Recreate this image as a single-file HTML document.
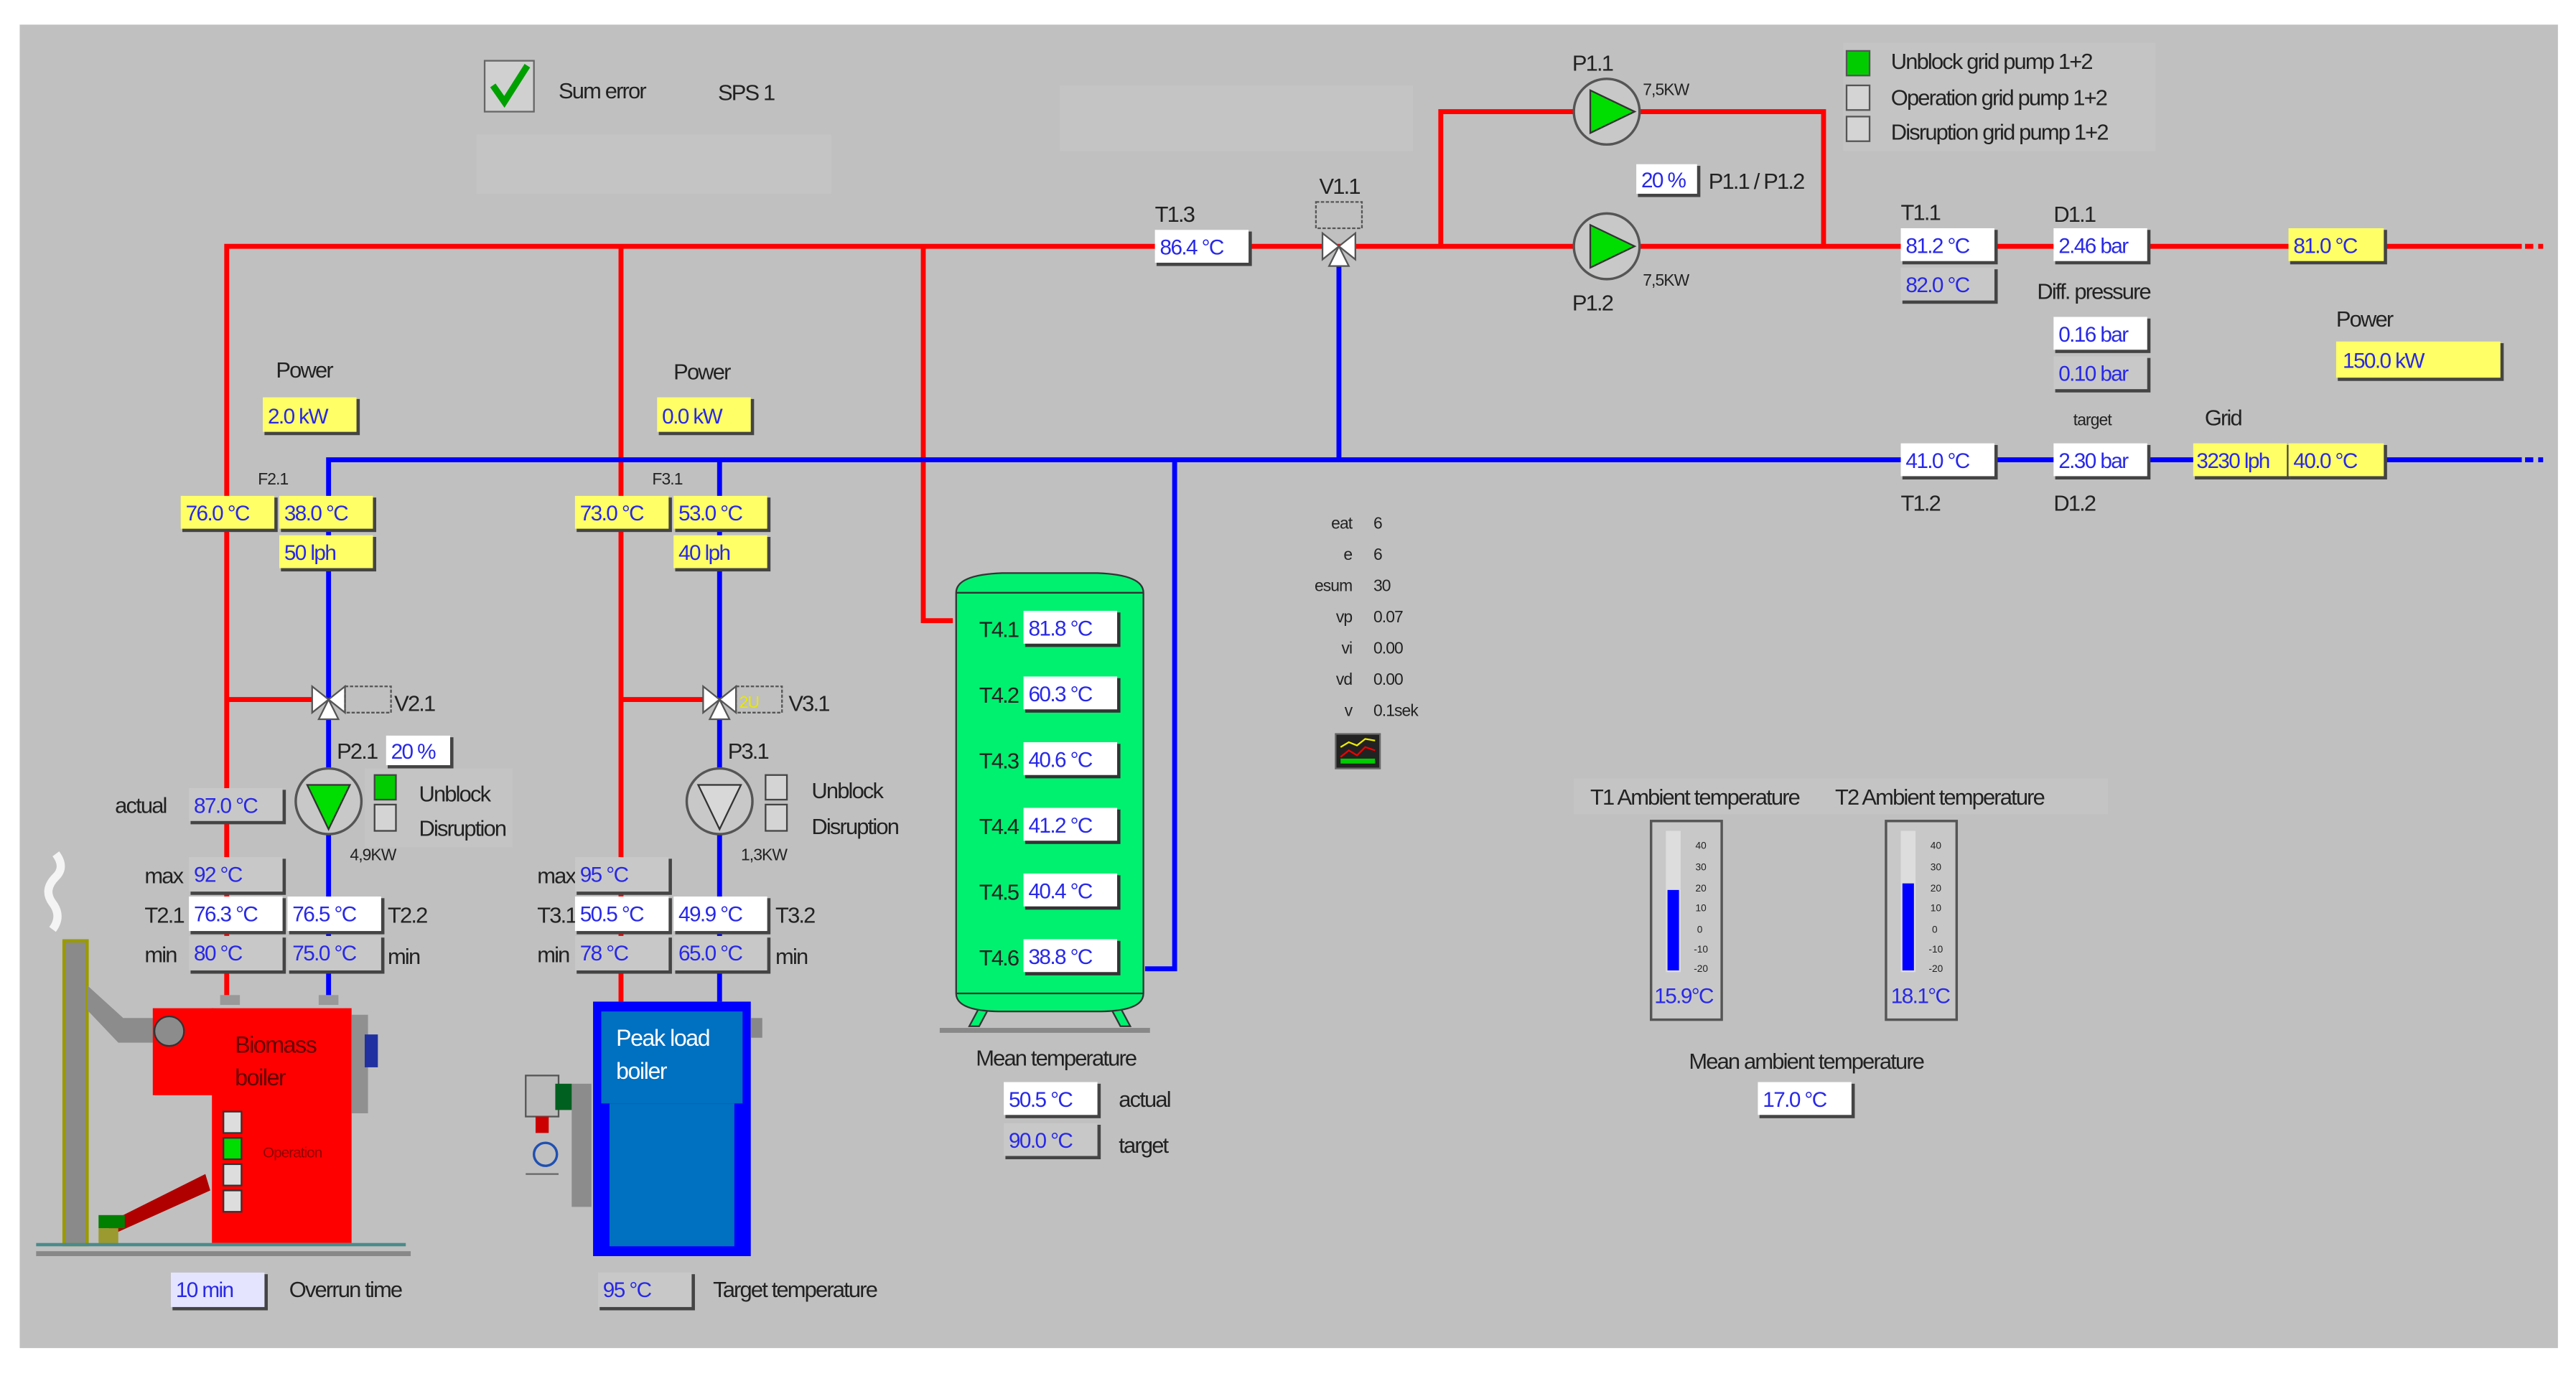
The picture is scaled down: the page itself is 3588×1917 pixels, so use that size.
<!DOCTYPE html>
<html><head><meta charset="utf-8"><style>
html,body{margin:0;padding:0;background:#fff}
svg{display:block}
text{font-family:"Liberation Sans Narrow","Liberation Sans",sans-serif}
.l{font-size:13.5px;fill:#222;letter-spacing:-0.8px}
.s{font-size:10px;fill:#222;letter-spacing:-0.4px}
.v{font-size:13px;fill:#2828e8;letter-spacing:-0.7px}
</style></head><body>
<svg width="3588" height="1917" viewBox="0 0 1568 838" preserveAspectRatio="none" xmlns="http://www.w3.org/2000/svg">
<defs>
<g id="valve"><polygon points="-10,-8 0,0 -10,8" fill="#fff" stroke="#555"/><polygon points="10,-8 0,0 10,8" fill="#fff" stroke="#555"/><polygon points="-6,12 0,0 6,12" fill="#fff" stroke="#555"/></g>
</defs>
<rect x="0" y="0" width="1568" height="838" fill="#fff"/>
<rect x="12" y="15" width="1545" height="806" fill="#c0c0c0"/>
<rect x="290" y="82" width="216" height="36" fill="#c4c4c4"/>
<rect x="645" y="52" width="215" height="40" fill="#c4c4c4"/>

<!-- sum error -->
<rect x="295" y="37" width="30" height="31" fill="#d0d0d0" stroke="#666"/>
<path d="M300 52 L307 62 L321 40" stroke="#00a000" stroke-width="4" fill="none"/>
<text x="340" y="60" class="l" font-size="16">Sum error</text>
<text x="437" y="61" class="l" font-size="15">SPS 1</text>

<!-- red pipes -->
<g stroke="#ff0000" stroke-width="3" fill="none">
<path d="M138 610 V150 H1535"/>
<path d="M1537 150 H1548" stroke-dasharray="5,3"/>
<path d="M378 610 V150"/>
<path d="M562 150 V378 H580"/>
<path d="M877 150 V68 H1110 V150"/>
<path d="M138 426 H190"/>
<path d="M378 426 H428"/>
</g>
<!-- blue pipes -->
<g stroke="#0000ff" stroke-width="3" fill="none">
<path d="M200 610 V280 H1535"/>
<path d="M1537 280 H1548" stroke-dasharray="5,3"/>
<path d="M438 610 V280"/>
<path d="M715 280 V590 H697"/>
<path d="M815 160 V280"/>
</g>

<!-- V1.1 -->
<text x="803" y="118" class="l">V1.1</text>
<rect x="801" y="123" width="28" height="16" fill="none" stroke="#555" stroke-dasharray="2,1"/>
<use href="#valve" x="815" y="150"/>

<!-- grid pumps -->
<g>
<circle cx="978" cy="68" r="20" fill="#c8c8c8" stroke="#555" stroke-width="1.5"/>
<polygon points="968,55 968,81 995,68" fill="#00dd00" stroke="#333"/>
<circle cx="978" cy="150" r="20" fill="#c8c8c8" stroke="#555" stroke-width="1.5"/>
<polygon points="968,137 968,163 995,150" fill="#00dd00" stroke="#333"/>
</g>
<text x="957" y="43" class="l">P1.1</text>
<text x="1000" y="58" class="s">7,5KW</text>
<text x="957" y="189" class="l">P1.2</text>
<text x="1000" y="174" class="s">7,5KW</text>

<!-- legend -->
<rect x="1122" y="26" width="190" height="66" fill="#c4c4c4"/>
<rect x="1124" y="31" width="14" height="15" fill="#00cc00" stroke="#555"/>
<rect x="1124" y="52" width="14" height="15" fill="#d4d4d4" stroke="#555"/>
<rect x="1124" y="71" width="14" height="15" fill="#d4d4d4" stroke="#555"/>
<text x="1151" y="42" class="l">Unblock grid pump 1+2</text>
<text x="1151" y="64" class="l">Operation grid pump 1+2</text>
<text x="1151" y="85" class="l">Disruption grid pump 1+2</text>

<g>
<text x="703" y="135" class="l">T1.3</text>
<rect x="704" y="141" width="58" height="21" fill="#444"/><rect x="703" y="140" width="57" height="20" fill="#fff"/>
<text x="706" y="155" class="v">86.4 °C</text>

<rect x="997" y="101" width="38" height="19" fill="#444"/><rect x="996" y="100" width="37" height="18" fill="#fff"/>
<text x="999" y="114" class="v">20 %</text>
<text x="1040" y="115" class="l">P1.1 / P1.2</text>

<text x="1157" y="134" class="l">T1.1</text>
<rect x="1158" y="140" width="58" height="21" fill="#444"/><rect x="1157" y="139" width="57" height="20" fill="#fff"/>
<text x="1160" y="154" class="v">81.2 °C</text>
<rect x="1158" y="164" width="58" height="21" fill="#444"/><rect x="1157" y="163" width="57" height="20" fill="#c8c8c8"/>
<text x="1160" y="178" class="v">82.0 °C</text>

<text x="1250" y="135" class="l">D1.1</text>
<rect x="1251" y="140" width="58" height="21" fill="#444"/><rect x="1250" y="139" width="57" height="20" fill="#fff"/>
<text x="1253" y="154" class="v">2.46 bar</text>

<rect x="1394" y="140" width="59" height="21" fill="#444"/><rect x="1393" y="139" width="58" height="20" fill="#ffff66"/>
<text x="1396" y="154" class="v">81.0 °C</text>

<text x="1240" y="182" class="l">Diff. pressure</text>
<rect x="1251" y="194" width="58" height="21" fill="#444"/><rect x="1250" y="193" width="57" height="20" fill="#fff"/>
<text x="1253" y="208" class="v">0.16 bar</text>
<rect x="1251" y="218" width="58" height="21" fill="#444"/><rect x="1250" y="217" width="57" height="20" fill="#c8c8c8"/>
<text x="1253" y="232" class="v">0.10 bar</text>

<text x="1422" y="199" class="l">Power</text>
<rect x="1423" y="209" width="101" height="23" fill="#444"/><rect x="1422" y="208" width="100" height="22" fill="#ffff66"/>
<text x="1426" y="224" class="v">150.0 kW</text>

<text x="1262" y="259" class="s">target</text>
<text x="1342" y="259" class="l">Grid</text>
<rect x="1158" y="271" width="58" height="21" fill="#444"/><rect x="1157" y="270" width="57" height="20" fill="#fff"/>
<text x="1160" y="285" class="v">41.0 °C</text>
<rect x="1251" y="271" width="58" height="21" fill="#444"/><rect x="1250" y="270" width="57" height="20" fill="#fff"/>
<text x="1253" y="285" class="v">2.30 bar</text>
<rect x="1336" y="271" width="58" height="21" fill="#444"/><rect x="1335" y="270" width="57" height="20" fill="#ffff66"/>
<text x="1337" y="285" class="v">3230 lph</text>
<rect x="1394" y="271" width="59" height="21" fill="#444"/><rect x="1393" y="270" width="58" height="20" fill="#ffff66"/>
<text x="1396" y="285" class="v">40.0 °C</text>
<text x="1157" y="311" class="l">T1.2</text>
<text x="1250" y="311" class="l">D1.2</text>

<text x="168" y="230" class="l">Power</text>
<rect x="161" y="243" width="58" height="22" fill="#444"/><rect x="160" y="242" width="57" height="21" fill="#ffff66"/>
<text x="163" y="258" class="v">2.0 kW</text>
<text x="410" y="231" class="l">Power</text>
<rect x="401" y="243" width="58" height="22" fill="#444"/><rect x="400" y="242" width="57" height="21" fill="#ffff66"/>
<text x="403" y="258" class="v">0.0 kW</text>
<text x="157" y="295" class="s">F2.1</text>
<text x="397" y="295" class="s">F3.1</text>

<rect x="111" y="303" width="58" height="21" fill="#444"/><rect x="110" y="302" width="57" height="20" fill="#ffff66"/>
<text x="113" y="317" class="v">76.0 °C</text>
<rect x="171" y="303" width="58" height="21" fill="#444"/><rect x="170" y="302" width="57" height="20" fill="#ffff66"/>
<text x="173" y="317" class="v">38.0 °C</text>
<rect x="171" y="327" width="58" height="21" fill="#444"/><rect x="170" y="326" width="57" height="20" fill="#ffff66"/>
<text x="173" y="341" class="v">50 lph</text>

<rect x="351" y="303" width="58" height="21" fill="#444"/><rect x="350" y="302" width="57" height="20" fill="#ffff66"/>
<text x="353" y="317" class="v">73.0 °C</text>
<rect x="411" y="303" width="58" height="21" fill="#444"/><rect x="410" y="302" width="57" height="20" fill="#ffff66"/>
<text x="413" y="317" class="v">53.0 °C</text>
<rect x="411" y="327" width="58" height="21" fill="#444"/><rect x="410" y="326" width="57" height="20" fill="#ffff66"/>
<text x="413" y="341" class="v">40 lph</text>

<use href="#valve" x="200" y="426"/>
<rect x="210" y="418" width="28" height="16" fill="none" stroke="#555" stroke-dasharray="2,1"/>
<text x="240" y="433" class="l">V2.1</text>
<use href="#valve" x="438" y="426"/>
<rect x="448" y="418" width="28" height="16" fill="none" stroke="#555" stroke-dasharray="2,1"/>
<text x="450" y="431" class="s" style="fill:#e8e800">2U</text>
<text x="480" y="433" class="l">V3.1</text>

<text x="205" y="462" class="l">P2.1</text>
<rect x="236" y="449" width="40" height="19" fill="#444"/><rect x="235" y="448" width="39" height="18" fill="#fff"/>
<text x="238" y="462" class="v">20 %</text>
<text x="443" y="462" class="l">P3.1</text>

<rect x="222" y="468" width="90" height="48" fill="#c4c4c4"/>
<circle cx="200" cy="488" r="20" fill="#c8c8c8" stroke="#555" stroke-width="1.5"/>
<polygon points="187,478 213,478 200,505" fill="#00dd00" stroke="#333"/>
<rect x="228" y="472" width="13" height="15" fill="#00cc00" stroke="#444"/>
<rect x="228" y="490" width="13" height="16" fill="#d4d4d4" stroke="#444"/>
<text x="255" y="488" class="l">Unblock</text>
<text x="255" y="509" class="l">Disruption</text>
<text x="213" y="524" class="s">4,9KW</text>

<circle cx="438" cy="488" r="20" fill="#c8c8c8" stroke="#555" stroke-width="1.5"/>
<polygon points="425,478 451,478 438,505" fill="#d8d8d8" stroke="#333"/>
<rect x="466" y="472" width="13" height="15" fill="#d4d4d4" stroke="#444"/>
<rect x="466" y="490" width="13" height="16" fill="#d4d4d4" stroke="#444"/>
<text x="494" y="486" class="l">Unblock</text>
<text x="494" y="508" class="l">Disruption</text>
<text x="451" y="524" class="s">1,3KW</text>

<text x="70" y="495" class="l">actual</text>
<rect x="116" y="481" width="58" height="21" fill="#444"/><rect x="115" y="480" width="57" height="20" fill="#c8c8c8"/>
<text x="118" y="495" class="v">87.0 °C</text>

<text x="88" y="538" class="l">max</text>
<rect x="116" y="523" width="58" height="22" fill="#444"/><rect x="115" y="522" width="57" height="21" fill="#c8c8c8"/>
<text x="118" y="537" class="v">92 °C</text>
<text x="88" y="562" class="l">T2.1</text>
<rect x="116" y="547" width="58" height="22" fill="#444"/><rect x="115" y="546" width="57" height="21" fill="#fff"/>
<text x="118" y="561" class="v">76.3 °C</text>
<rect x="176" y="547" width="58" height="22" fill="#444"/><rect x="175" y="546" width="57" height="21" fill="#fff"/>
<text x="178" y="561" class="v">76.5 °C</text>
<text x="236" y="562" class="l">T2.2</text>
<text x="88" y="586" class="l">min</text>
<rect x="116" y="571" width="58" height="22" fill="#444"/><rect x="115" y="570" width="57" height="21" fill="#c8c8c8"/>
<text x="118" y="585" class="v">80 °C</text>
<rect x="176" y="571" width="58" height="22" fill="#444"/><rect x="175" y="570" width="57" height="21" fill="#c8c8c8"/>
<text x="178" y="585" class="v">75.0 °C</text>
<text x="236" y="587" class="l">min</text>

<text x="327" y="538" class="l">max</text>
<rect x="351" y="523" width="58" height="22" fill="#444"/><rect x="350" y="522" width="57" height="21" fill="#c8c8c8"/>
<text x="353" y="537" class="v">95 °C</text>
<text x="327" y="562" class="l">T3.1</text>
<rect x="351" y="547" width="58" height="22" fill="#444"/><rect x="350" y="546" width="57" height="21" fill="#fff"/>
<text x="353" y="561" class="v">50.5 °C</text>
<rect x="411" y="547" width="58" height="22" fill="#444"/><rect x="410" y="546" width="57" height="21" fill="#fff"/>
<text x="413" y="561" class="v">49.9 °C</text>
<text x="472" y="562" class="l">T3.2</text>
<text x="327" y="586" class="l">min</text>
<rect x="351" y="571" width="58" height="22" fill="#444"/><rect x="350" y="570" width="57" height="21" fill="#c8c8c8"/>
<text x="353" y="585" class="v">78 °C</text>
<rect x="411" y="571" width="58" height="22" fill="#444"/><rect x="410" y="570" width="57" height="21" fill="#c8c8c8"/>
<text x="413" y="585" class="v">65.0 °C</text>
<text x="472" y="587" class="l">min</text>
</g>

<!-- biomass boiler -->
<g>
<path d="M32 566 q6 -8 0 -16 q-6 -8 2 -16 q6 -6 0 -14" stroke="#f4f4f4" stroke-width="5" fill="none"/>
<rect x="39" y="573" width="14" height="185" fill="#8a8a8a" stroke="#9a9a00" stroke-width="2"/>
<polygon points="53,600 75,620 100,620 100,635 72,635 53,615" fill="#8c8c8c"/>
<rect x="93" y="614" width="37" height="53" fill="#ff0000"/>
<circle cx="103" cy="628" r="9" fill="#8c8c8c" stroke="#333"/>
<rect x="129" y="614" width="85" height="143" fill="#ff0000"/>
<rect x="214" y="618" width="10" height="60" fill="#909090"/>
<rect x="222" y="630" width="8" height="20" fill="#2030a0"/>
<polygon points="65,745 125,715 128,725 68,752" fill="#b00000"/>
<rect x="60" y="740" width="16" height="8" fill="#008000"/>
<rect x="60" y="748" width="12" height="10" fill="#9a9a30"/>
<rect x="134" y="606" width="12" height="6" fill="#999"/>
<rect x="194" y="606" width="12" height="6" fill="#999"/>
<rect x="136" y="677" width="11" height="13" fill="#ddd" stroke="#333"/>
<rect x="136" y="693" width="11" height="13" fill="#00dd00" stroke="#333"/>
<rect x="136" y="709" width="11" height="13" fill="#ddd" stroke="#333"/>
<rect x="136" y="725" width="11" height="13" fill="#ddd" stroke="#333"/>
<text x="143" y="641" font-size="14" fill="#600000" letter-spacing="-0.6">Biomass</text>
<text x="143" y="661" font-size="14" fill="#600000" letter-spacing="-0.6">boiler</text>
<text x="160" y="705" font-size="9" fill="#900000" letter-spacing="-0.4">Operation</text>
<rect x="22" y="757" width="225" height="2" fill="#4a8a8a"/>
<rect x="22" y="762" width="228" height="3" fill="#888"/>
</g>

<!-- peak load boiler -->
<g>
<rect x="361" y="610" width="96" height="155" fill="#0000ff"/>
<rect x="366" y="616" width="86" height="56" fill="#0070c0"/>
<rect x="371" y="672" width="76" height="87" fill="#0070c0"/>
<text x="375" y="637" font-size="14" fill="#fff" letter-spacing="-0.6">Peak load</text>
<text x="375" y="657" font-size="14" fill="#fff" letter-spacing="-0.6">boiler</text>
<rect x="348" y="660" width="12" height="75" fill="#8c8c8c"/>
<rect x="320" y="655" width="20" height="25" fill="#bbb" stroke="#555"/>
<rect x="338" y="660" width="10" height="16" fill="#006020"/>
<rect x="326" y="680" width="8" height="10" fill="#c00"/>
<rect x="457" y="620" width="7" height="12" fill="#888"/>
<circle cx="332" cy="703" r="7" fill="none" stroke="#2050b0" stroke-width="1.5"/>
<path d="M320 715 H340" stroke="#666"/>
</g>

<!-- tank -->
<g stroke="#333" stroke-width="1">
<polygon points="590,625 598,610 604,610 596,625" fill="#00f070"/>
<polygon points="688,625 680,610 674,610 682,625" fill="#00f070"/>
<path d="M582 361 Q582 350 610 349 H668 Q696 350 696 361 V605 Q696 616 668 616 H610 Q582 616 582 605 Z" fill="#00f070"/>
<path d="M582 361 H696 M582 605 H696" fill="none"/>
</g>
<rect x="572" y="626" width="128" height="3" fill="#888"/>
<g>
<text x="596" y="388" class="l">T4.1</text><rect x="624" y="373" width="58" height="21" fill="#333"/><rect x="623" y="372" width="57" height="20" fill="#fff"/><text x="626" y="387" class="v">81.8 °C</text>
<text x="596" y="428" class="l">T4.2</text><rect x="624" y="413" width="58" height="21" fill="#333"/><rect x="623" y="412" width="57" height="20" fill="#fff"/><text x="626" y="427" class="v">60.3 °C</text>
<text x="596" y="468" class="l">T4.3</text><rect x="624" y="453" width="58" height="21" fill="#333"/><rect x="623" y="452" width="57" height="20" fill="#fff"/><text x="626" y="467" class="v">40.6 °C</text>
<text x="596" y="508" class="l">T4.4</text><rect x="624" y="493" width="58" height="21" fill="#333"/><rect x="623" y="492" width="57" height="20" fill="#fff"/><text x="626" y="507" class="v">41.2 °C</text>
<text x="596" y="548" class="l">T4.5</text><rect x="624" y="533" width="58" height="21" fill="#333"/><rect x="623" y="532" width="57" height="20" fill="#fff"/><text x="626" y="547" class="v">40.4 °C</text>
<text x="596" y="588" class="l">T4.6</text><rect x="624" y="573" width="58" height="21" fill="#333"/><rect x="623" y="572" width="57" height="20" fill="#fff"/><text x="626" y="587" class="v">38.8 °C</text>
</g>
<text x="594" y="649" class="l">Mean temperature</text>
<rect x="612" y="660" width="58" height="21" fill="#444"/><rect x="611" y="659" width="57" height="20" fill="#fff"/>
<text x="614" y="674" class="v">50.5 °C</text>
<text x="681" y="674" class="l">actual</text>
<rect x="612" y="685" width="58" height="21" fill="#444"/><rect x="611" y="684" width="57" height="20" fill="#c8c8c8"/>
<text x="614" y="699" class="v">90.0 °C</text>
<text x="681" y="702" class="l">target</text>

<!-- params -->
<g>
<text x="823" y="322" text-anchor="end" class="s">eat</text><text x="836" y="322" class="s">6</text>
<text x="823" y="341" text-anchor="end" class="s">e</text><text x="836" y="341" class="s">6</text>
<text x="823" y="360" text-anchor="end" class="s">esum</text><text x="836" y="360" class="s">30</text>
<text x="823" y="379" text-anchor="end" class="s">vp</text><text x="836" y="379" class="s">0.07</text>
<text x="823" y="398" text-anchor="end" class="s">vi</text><text x="836" y="398" class="s">0.00</text>
<text x="823" y="417" text-anchor="end" class="s">vd</text><text x="836" y="417" class="s">0.00</text>
<text x="823" y="436" text-anchor="end" class="s">v</text><text x="836" y="436" class="s">0.1sek</text>
</g>
<rect x="813" y="447" width="27" height="21" fill="#222" stroke="#666"/>
<path d="M816 455 l5 -3 l5 2 l5 -4 l6 1" stroke="#ee0" fill="none"/>
<path d="M816 461 l5 -4 l5 3 l5 -5 l6 2" stroke="#e00" fill="none"/>
<rect x="816" y="462" width="21" height="3" fill="#0c0"/>

<!-- ambient -->
<rect x="958" y="474" width="325" height="22" fill="#c4c4c4"/>
<text x="968" y="490" class="l">T1 Ambient temperature</text>
<text x="1117" y="490" class="l">T2 Ambient temperature</text>
<g>
<rect x="1005" y="500" width="43" height="121" fill="#c8c8c8" stroke="#555" stroke-width="1.5"/>
<rect x="1014" y="506" width="9" height="86" fill="#ddd"/>
<rect x="1015" y="542" width="7" height="49" fill="#0000ff"/>
<g font-size="6" fill="#222"><text x="1032" y="517">40</text><text x="1032" y="530">30</text><text x="1032" y="543">20</text><text x="1032" y="555">10</text><text x="1033" y="568">0</text><text x="1031" y="580">-10</text><text x="1031" y="592">-20</text></g>
<text x="1007" y="611" class="v">15.9°C</text>
<rect x="1148" y="500" width="43" height="121" fill="#c8c8c8" stroke="#555" stroke-width="1.5"/>
<rect x="1157" y="506" width="9" height="86" fill="#ddd"/>
<rect x="1158" y="538" width="7" height="53" fill="#0000ff"/>
<g font-size="6" fill="#222"><text x="1175" y="517">40</text><text x="1175" y="530">30</text><text x="1175" y="543">20</text><text x="1175" y="555">10</text><text x="1176" y="568">0</text><text x="1174" y="580">-10</text><text x="1174" y="592">-20</text></g>
<text x="1151" y="611" class="v">18.1°C</text>
</g>
<text x="1028" y="651" class="l">Mean ambient temperature</text>
<rect x="1071" y="660" width="58" height="21" fill="#444"/><rect x="1070" y="659" width="57" height="20" fill="#fff"/>
<text x="1073" y="674" class="v">17.0 °C</text>

<!-- bottom -->
<rect x="105" y="776" width="58" height="22" fill="#444"/><rect x="104" y="775" width="57" height="21" fill="#e4e4ff"/>
<text x="107" y="790" class="v">10 min</text>
<text x="176" y="790" class="l">Overrun time</text>
<rect x="365" y="776" width="58" height="22" fill="#444"/><rect x="364" y="775" width="57" height="21" fill="#c8c8c8"/>
<text x="367" y="790" class="v">95 °C</text>
<text x="434" y="790" class="l">Target temperature</text>
</svg>
</body></html>
